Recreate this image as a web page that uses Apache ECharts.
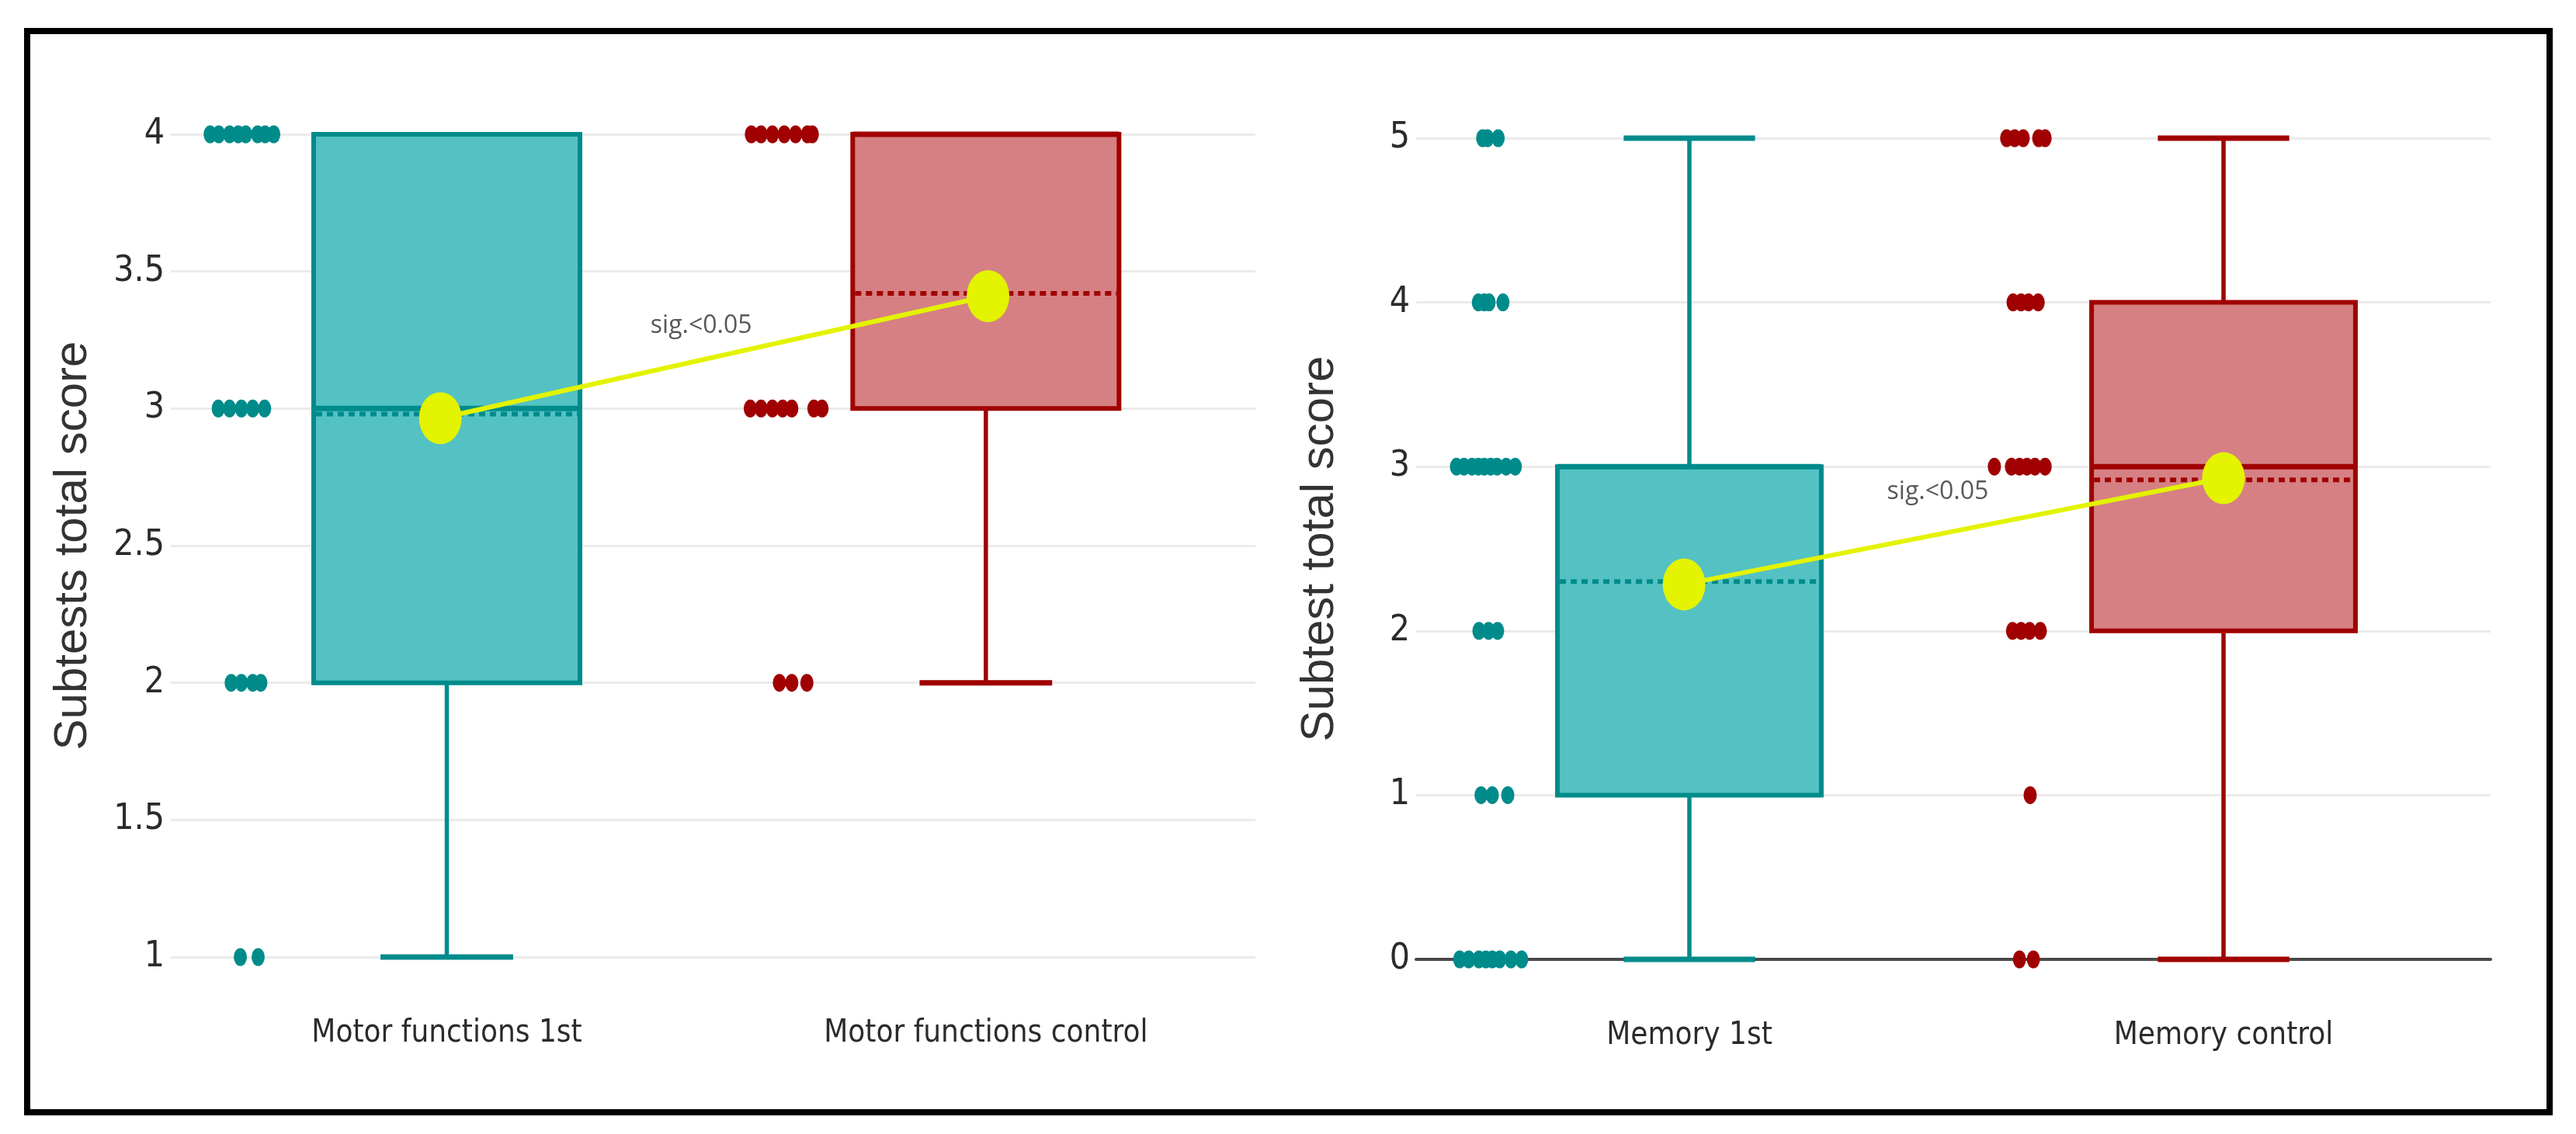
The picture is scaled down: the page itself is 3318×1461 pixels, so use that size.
<!DOCTYPE html>
<html>
<head>
<meta charset="utf-8">
<script src="https://cdn.jsdelivr.net/npm/echarts@6/dist/echarts.min.js"></script>
<style>
html,body{margin:0;padding:0;background:#ffffff;}
#chart{width:3318px;height:1461px;}
</style>
</head>
<body>
<div id="chart"></div>
<script>
// ---------------- data ----------------
const motorCategories = ['Motor functions 1st', 'Motor functions control'];
const memoryCategories = ['Memory 1st', 'Memory control'];

// box statistics: [min, Q1, median, Q3, max]
const motorBoxStats = [[1, 2, 3, 4, 4], [2, 3, 4, 4, 4]];
const memoryBoxStats = [[0, 1, 3, 3, 5], [0, 2, 3, 4, 5]];

// means shown as dashed lines in the boxes
const motorMeans = [2.98, 3.42];
const memoryMeans = [2.30, 2.92];

// yellow mean markers joined by the significance line: [x, y]
const motorMeanMarkers = [[-0.012, 2.965], [1.004, 3.41]];
const memoryMeanMarkers = [[-0.010, 2.283], [1.000, 2.93]];

const motor1stPoints = [
  [-0.439, 4], [-0.423, 4], [-0.403, 4], [-0.387, 4], [-0.373, 4], [-0.351, 4], [-0.337, 4], [-0.321, 4],
  [-0.424, 3], [-0.403, 3], [-0.381, 3], [-0.360, 3], [-0.338, 3],
  [-0.400, 2], [-0.381, 2], [-0.360, 2], [-0.345, 2],
  [-0.383, 1], [-0.350, 1]
];
const motorControlPoints = [
  [0.565, 4], [0.583, 4], [0.604, 4], [0.626, 4], [0.647, 4], [0.669, 4], [0.678, 4],
  [0.563, 3], [0.583, 3], [0.604, 3], [0.623, 3], [0.640, 3], [0.681, 3], [0.696, 3],
  [0.617, 2], [0.640, 2], [0.668, 2]
];
const memory1stPoints = [
  [-0.387, 5], [-0.378, 5], [-0.358, 5],
  [-0.395, 4], [-0.384, 4], [-0.375, 4], [-0.349, 4],
  [-0.436, 3], [-0.422, 3], [-0.407, 3], [-0.395, 3], [-0.384, 3], [-0.372, 3], [-0.360, 3], [-0.343, 3], [-0.326, 3],
  [-0.394, 2], [-0.376, 2], [-0.359, 2],
  [-0.390, 1], [-0.369, 1], [-0.340, 1],
  [-0.430, 0], [-0.413, 0], [-0.394, 0], [-0.381, 0], [-0.369, 0], [-0.355, 0], [-0.334, 0], [-0.314, 0]
];
const memoryControlPoints = [
  [0.594, 5], [0.609, 5], [0.625, 5], [0.654, 5], [0.666, 5],
  [0.606, 4], [0.621, 4], [0.635, 4], [0.653, 4],
  [0.571, 3], [0.603, 3], [0.618, 3], [0.632, 3], [0.647, 3], [0.666, 3],
  [0.605, 2], [0.621, 2], [0.637, 2], [0.657, 2],
  [0.638, 1],
  [0.618, 0], [0.644, 0]
];

// significance annotation
const sigText = 'sig.<0.05';
const motorSigAt = [0.472, 3.30];
const memorySigAt = [0.465, 2.845];

// axis texts
const motorYTitle = 'Subtests total score';
const memoryYTitle = 'Subtest total score';

// ---------------- styles ----------------
const LINE_COLORS = ['#008b8b', '#a00000'];
const FILL_COLORS = ['#54c2c3', '#d68083'];
const YELLOW = '#e3f300';
const BOX_HALF = 0.247;   // half box width, in category units
const CAP_HALF = 0.123;   // half whisker-cap width
const TICK_FONT = "'DejaVu Sans Condensed', 'Liberation Sans Narrow', 'Arial Narrow', 'Liberation Sans', Arial, sans-serif";
const TITLE_FONT = "'Liberation Sans', Arial, sans-serif";

function boxData(stats, means) {
  return stats.map((s, i) => [i, s[0], s[1], s[2], s[3], s[4], means[i]]);
}

function renderBox(params, api) {
  const i = params.dataIndex;
  const lc = LINE_COLORS[i], fc = FILL_COLORS[i];
  const x = api.value(0);
  const mn = api.value(1), q1 = api.value(2), md = api.value(3), q3 = api.value(4), mx = api.value(5), mean = api.value(6);
  const tl = api.coord([x - BOX_HALF, q3]);
  const br = api.coord([x + BOX_HALF, q1]);
  const cMax = api.coord([x, mx]), cQ3 = api.coord([x, q3]), cQ1 = api.coord([x, q1]), cMin = api.coord([x, mn]);
  const capL = api.coord([x - CAP_HALF, mn])[0], capR = api.coord([x + CAP_HALF, mn])[0];
  const mdY = api.coord([x, md])[1], meanY = api.coord([x, mean])[1];
  const children = [];
  if (mx > q3) {
    children.push({type: 'line', shape: {x1: cMax[0], y1: cMax[1], x2: cQ3[0], y2: cQ3[1]}, style: {stroke: lc, lineWidth: 5.5}});
    children.push({type: 'line', shape: {x1: capL, y1: cMax[1], x2: capR, y2: cMax[1]}, style: {stroke: lc, lineWidth: 7}});
  }
  if (mn < q1) {
    children.push({type: 'line', shape: {x1: cMin[0], y1: cMin[1], x2: cQ1[0], y2: cQ1[1]}, style: {stroke: lc, lineWidth: 5.5}});
    children.push({type: 'line', shape: {x1: capL, y1: cMin[1], x2: capR, y2: cMin[1]}, style: {stroke: lc, lineWidth: 7}});
  }
  children.push({type: 'rect', shape: {x: tl[0], y: tl[1], width: br[0] - tl[0], height: br[1] - tl[1]},
    style: {fill: fc, stroke: lc, lineWidth: 6}});
  children.push({type: 'line', shape: {x1: tl[0], y1: mdY, x2: br[0], y2: mdY}, style: {stroke: lc, lineWidth: 7}});
  children.push({type: 'line', shape: {x1: tl[0] + 3, y1: meanY, x2: br[0] - 3, y2: meanY},
    style: {stroke: lc, lineWidth: 6, lineDash: [8, 6]}});
  return {type: 'group', children: children};
}

function xAxisFor(gridIndex, cats, min, max, showLine) {
  return {
    type: 'value', gridIndex: gridIndex, min: min, max: max,
    splitLine: {show: false},
    axisTick: {show: false, customValues: [0, 1]},
    axisLine: {show: showLine, onZero: false, lineStyle: {color: '#4a4a4a', width: 4}},
    axisLabel: {
      customValues: [0, 1],
      margin: 79,
      fontSize: 40, fontFamily: TICK_FONT, color: '#2b2b2b',
      formatter: function (v) {
        const r = Math.round(v);
        return Math.abs(v - r) < 1e-6 && cats[r] !== undefined ? cats[r] : '';
      }
    }
  };
}

function yAxisFor(gridIndex, min, max, interval, title, gap) {
  return {
    type: 'value', gridIndex: gridIndex, min: min, max: max, interval: interval,
    axisLine: {show: false}, axisTick: {show: false},
    splitLine: {show: true, lineStyle: {color: '#ebebeb', width: 3}},
    axisLabel: {margin: 8, fontSize: 46, fontFamily: TICK_FONT, color: '#2b2b2b'},
    name: title, nameLocation: 'middle', nameGap: gap, nameRotate: 90,
    nameTextStyle: {fontSize: 60, fontFamily: TITLE_FONT, color: '#333333'}
  };
}

function pointSeries(idx, data, color) {
  return {
    type: 'scatter', xAxisIndex: idx, yAxisIndex: idx, data: data, clip: false, z: 3,
    symbol: 'circle', symbolSize: [17, 23], itemStyle: {color: color, opacity: 1}, silent: true
  };
}

function meanLineSeries(idx, data) {
  return {
    type: 'line', xAxisIndex: idx, yAxisIndex: idx, data: data, clip: false, z: 5,
    symbol: 'circle', symbolSize: [55, 67], showSymbol: true,
    itemStyle: {color: YELLOW, opacity: 1}, lineStyle: {color: YELLOW, width: 6}, silent: true
  };
}

function sigSeries(idx, at) {
  return {
    type: 'scatter', xAxisIndex: idx, yAxisIndex: idx, data: [at], clip: false, z: 6,
    symbolSize: 1, itemStyle: {color: 'rgba(0,0,0,0)'}, silent: true,
    label: {show: true, position: 'inside', formatter: sigText, fontSize: 32,
      fontFamily: "'Open Sans', 'DejaVu Sans', sans-serif", color: '#2e2e2e'}
  };
}

const chart = echarts.init(document.getElementById('chart'), null, {renderer: 'canvas'});
chart.setOption({
  animation: false,
  backgroundColor: '#ffffff',
  grid: [
    {left: 220, top: 173, width: 1397, height: 1060},
    {left: 1824, top: 178, width: 1384, height: 1058}
  ],
  xAxis: [
    xAxisFor(0, motorCategories, -0.512, 1.5, false),
    xAxisFor(1, memoryCategories, -0.5116, 1.5, true)
  ],
  yAxis: [
    yAxisFor(0, 1, 4, 0.5, motorYTitle, 96),
    yAxisFor(1, 0, 5, 1, memoryYTitle, 94)
  ],
  graphic: [{
    type: 'rect', left: 31, top: 36, silent: true, z: 100,
    shape: {width: 3249, height: 1393},
    style: {fill: 'none', stroke: '#000000', lineWidth: 8}
  }],
  series: [
    {type: 'custom', xAxisIndex: 0, yAxisIndex: 0, data: boxData(motorBoxStats, motorMeans),
      renderItem: renderBox, encode: {x: 0, y: [1, 2, 3, 4, 5]}, z: 2, silent: true},
    {type: 'custom', xAxisIndex: 1, yAxisIndex: 1, data: boxData(memoryBoxStats, memoryMeans),
      renderItem: renderBox, encode: {x: 0, y: [1, 2, 3, 4, 5]}, z: 2, silent: true},
    pointSeries(0, motor1stPoints, LINE_COLORS[0]),
    pointSeries(0, motorControlPoints, LINE_COLORS[1]),
    pointSeries(1, memory1stPoints, LINE_COLORS[0]),
    pointSeries(1, memoryControlPoints, LINE_COLORS[1]),
    meanLineSeries(0, motorMeanMarkers),
    meanLineSeries(1, memoryMeanMarkers),
    sigSeries(0, motorSigAt),
    sigSeries(1, memorySigAt)
  ]
});
</script>
</body>
</html>
